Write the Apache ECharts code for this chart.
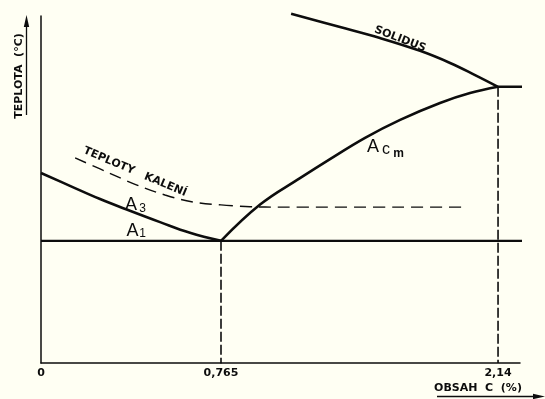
<!DOCTYPE html>
<html>
<head>
<meta charset="utf-8">
<script src="https://cdn.jsdelivr.net/npm/echarts@6/dist/echarts.min.js"></script>
<style>
  html, body { margin: 0; padding: 0; background: #fffff3; }
  #chart { width: 545px; height: 399px; }
</style>
</head>
<body>
<div id="chart"></div>
<script>
// Fe–Fe3C diagram (steel part): carbon content in %, temperature in °C.
// The carbon axis is split at the eutectoid point, so each part has its own scale.

const EUTECTOID_C = 0.765;
const EUTECTIC_C = 2.14;
const A1_TEMP = 727;
const EUTECTIC_TEMP = 1147;

const C_TICKS_LEFT = [0];
const C_TICKS_RIGHT = [0.765, 2.14];

// A3 line (hypoeutectoid side)
const A3_C = [0, 0.123, 0.251, 0.378, 0.506, 0.633, 0.765];
const A3_T = [912, 877, 841, 809, 778, 749, 727];

// Acm line (hypereutectoid side)
const ACM_C = [0.765, 0.959, 1.157, 1.306, 1.480, 1.654, 1.852, 2.001, 2.14];
const ACM_T = [727, 826, 898, 950, 1008, 1057, 1103, 1130, 1147];

// Solidus
const SOLIDUS_C = [1.113, 1.356, 1.554, 1.753, 1.902, 2.026, 2.14];
const SOLIDUS_T = [1346, 1310, 1280, 1245, 1212, 1179, 1147];

// Eutectic horizontal and A1 extent
const EUTECTIC_LINE_C = [2.14, 2.373];
const A1_LEFT_C = [0, 0.765];
const A1_RIGHT_C = [0.765, 2.373];

// Hardening temperatures (dashed)
const HARD_LEFT_C = [0.145, 0.251, 0.408, 0.527, 0.646, 0.765];
const HARD_LEFT_T = [953, 923, 879, 852, 833, 825];
const HARD_RIGHT_C = [0.765, 0.909, 1.058, 1.986];
const HARD_RIGHT_T = [825, 820, 819, 819];

const T_MIN = 394;
const T_MAX = 1340;
const C_MAX = 2.249;

const INK = '#0d0d0d';
const FONT = '"Liberation Sans", Arial, sans-serif';
const LETTERING = '"DejaVu Sans", "Liberation Sans", sans-serif';

const zip = (xs, ys) => xs.map((x, i) => [x, ys[i]]);
const flat = (xs, y) => xs.map(x => [x, y]);

const chart = echarts.init(document.getElementById('chart'), null, { renderer: 'canvas' });

const fmt = v => String(v).replace('.', ',');

function curve(grid, data, width, extra) {
  return Object.assign({
    type: 'line',
    xAxisIndex: grid,
    yAxisIndex: grid,
    data: data,
    symbol: 'none',
    clip: false,
    silent: true,
    smooth: 0.4,
    lineStyle: { color: INK, width: width }
  }, extra || {});
}

const tickLabel = {
  formatter: fmt, margin: 5,
  color: INK, fontFamily: LETTERING, fontSize: 11, fontWeight: 'bold',
  showMinLabel: true, showMaxLabel: true
};

const option = {
  backgroundColor: '#fffff3',
  animation: false,
  grid: [
    { left: 41, top: 16, width: 180, height: 347, outerBoundsMode: 'none' },
    { left: 221, top: 16, width: 299, height: 347, outerBoundsMode: 'none' }
  ],
  xAxis: [
    {
      type: 'value', gridIndex: 0, min: 0, max: EUTECTOID_C,
      axisLine: { show: true, onZero: false, lineStyle: { color: INK, width: 1.5 } },
      axisTick: { show: false },
      splitLine: { show: false },
      axisLabel: Object.assign({ customValues: C_TICKS_LEFT }, tickLabel)
    },
    {
      type: 'value', gridIndex: 1, min: EUTECTOID_C, max: C_MAX,
      axisLine: { show: true, onZero: false, lineStyle: { color: INK, width: 1.5 } },
      axisTick: { show: false },
      splitLine: { show: false },
      axisLabel: Object.assign({ customValues: C_TICKS_RIGHT }, tickLabel)
    }
  ],
  yAxis: [
    {
      type: 'value', gridIndex: 0, min: T_MIN, max: T_MAX,
      axisLine: { show: true, onZero: false, lineStyle: { color: INK, width: 1.5 } },
      axisTick: { show: false },
      axisLabel: { show: false },
      splitLine: { show: false }
    },
    {
      type: 'value', gridIndex: 1, min: T_MIN, max: T_MAX, show: false,
      splitLine: { show: false }
    }
  ],
  series: [
    curve(0, flat(A1_LEFT_C, A1_TEMP), 2.4, { smooth: false }),
    curve(1, flat(A1_RIGHT_C, A1_TEMP), 2.4, { smooth: false }),
    curve(0, zip(A3_C, A3_T), 2.6),
    curve(1, zip(ACM_C, ACM_T), 2.6),
    curve(1, zip(SOLIDUS_C, SOLIDUS_T), 2.6),
    curve(1, flat(EUTECTIC_LINE_C, EUTECTIC_TEMP), 2.6, { smooth: false }),
    curve(0, zip(HARD_LEFT_C, HARD_LEFT_T), 1.4, {
      lineStyle: { color: INK, width: 1.4, type: [12, 7] }
    }),
    curve(1, zip(HARD_RIGHT_C, HARD_RIGHT_T), 1.4, {
      lineStyle: { color: INK, width: 1.4, type: [12, 7] }
    }),
    curve(1, [[EUTECTOID_C, A1_TEMP], [EUTECTOID_C, T_MIN]], 1.6, {
      smooth: false, lineStyle: { color: INK, width: 1.6, type: [10, 3] }
    }),
    curve(1, [[EUTECTIC_C, EUTECTIC_TEMP], [EUTECTIC_C, T_MIN]], 1.6, {
      smooth: false, lineStyle: { color: INK, width: 1.6, type: [10, 3] }
    })
  ]
};

chart.setOption(option);

// Text labels, anchored in data coordinates
const P = (g, c, t) => chart.convertToPixel({ gridIndex: g }, [c, t]);
const DEG = Math.PI / 180;

function txt(pos, text, size, weight, rot, family) {
  return {
    type: 'text',
    x: pos[0], y: pos[1],
    rotation: (rot || 0) * DEG,
    silent: true,
    style: {
      text: text,
      fill: INK,
      font: (weight || 'normal') + ' ' + size + 'px ' + (family || FONT),
      align: 'center',
      verticalAlign: 'middle'
    }
  };
}

const a3 = P(0, 0.3825, 825);
const a1 = P(0, 0.389, 755);
const acm = P(1, 1.52, 984);
const sol = P(1, 1.654, 1277);
const hard = P(0, 0.3995, 915);

const graphics = [
  txt(a3, 'A', 18),
  txt([a3[0] + 11.5, a3[1] + 4], '3', 12),
  txt(a1, 'A', 18),
  txt([a1[0] + 10, a1[1] + 3.5], '1', 12),
  txt(acm, 'A', 18),
  txt([acm[0] + 13, acm[1] + 3], 'c', 16),
  txt([acm[0] + 25.5, acm[1] + 7], 'm', 12, 'bold'),
  txt(sol, 'SOLIDUS', 11, 'bold', -21, LETTERING),
  txt(hard, 'TEPLOTY   KALENÍ', 11, 'bold', -23, LETTERING),
  // axis names
  txt([19.5, 76], 'TEPLOTA  (°C)', 11, 'bold', 90, LETTERING),
  txt([478, 388], 'OBSAH  C  (%)', 11, 'bold', 0, LETTERING),
  // arrow under the temperature name
  { type: 'line', silent: true, shape: { x1: 26.5, y1: 115, x2: 26.5, y2: 24 },
    style: { stroke: INK, lineWidth: 1.3 }, z: 10 },
  { type: 'polygon', silent: true, shape: { points: [[26.5, 15], [23.8, 27], [29.2, 27]] },
    style: { fill: INK }, z: 10 },
  // arrow under the carbon name
  { type: 'line', silent: true, shape: { x1: 437, y1: 396.5, x2: 536, y2: 396.5 },
    style: { stroke: INK, lineWidth: 1.3 } },
  { type: 'polygon', silent: true, shape: { points: [[545, 396.5], [533, 393.8], [533, 399.2]] },
    style: { fill: INK } }
];

chart.setOption({ graphic: graphics });
</script>
</body>
</html>
